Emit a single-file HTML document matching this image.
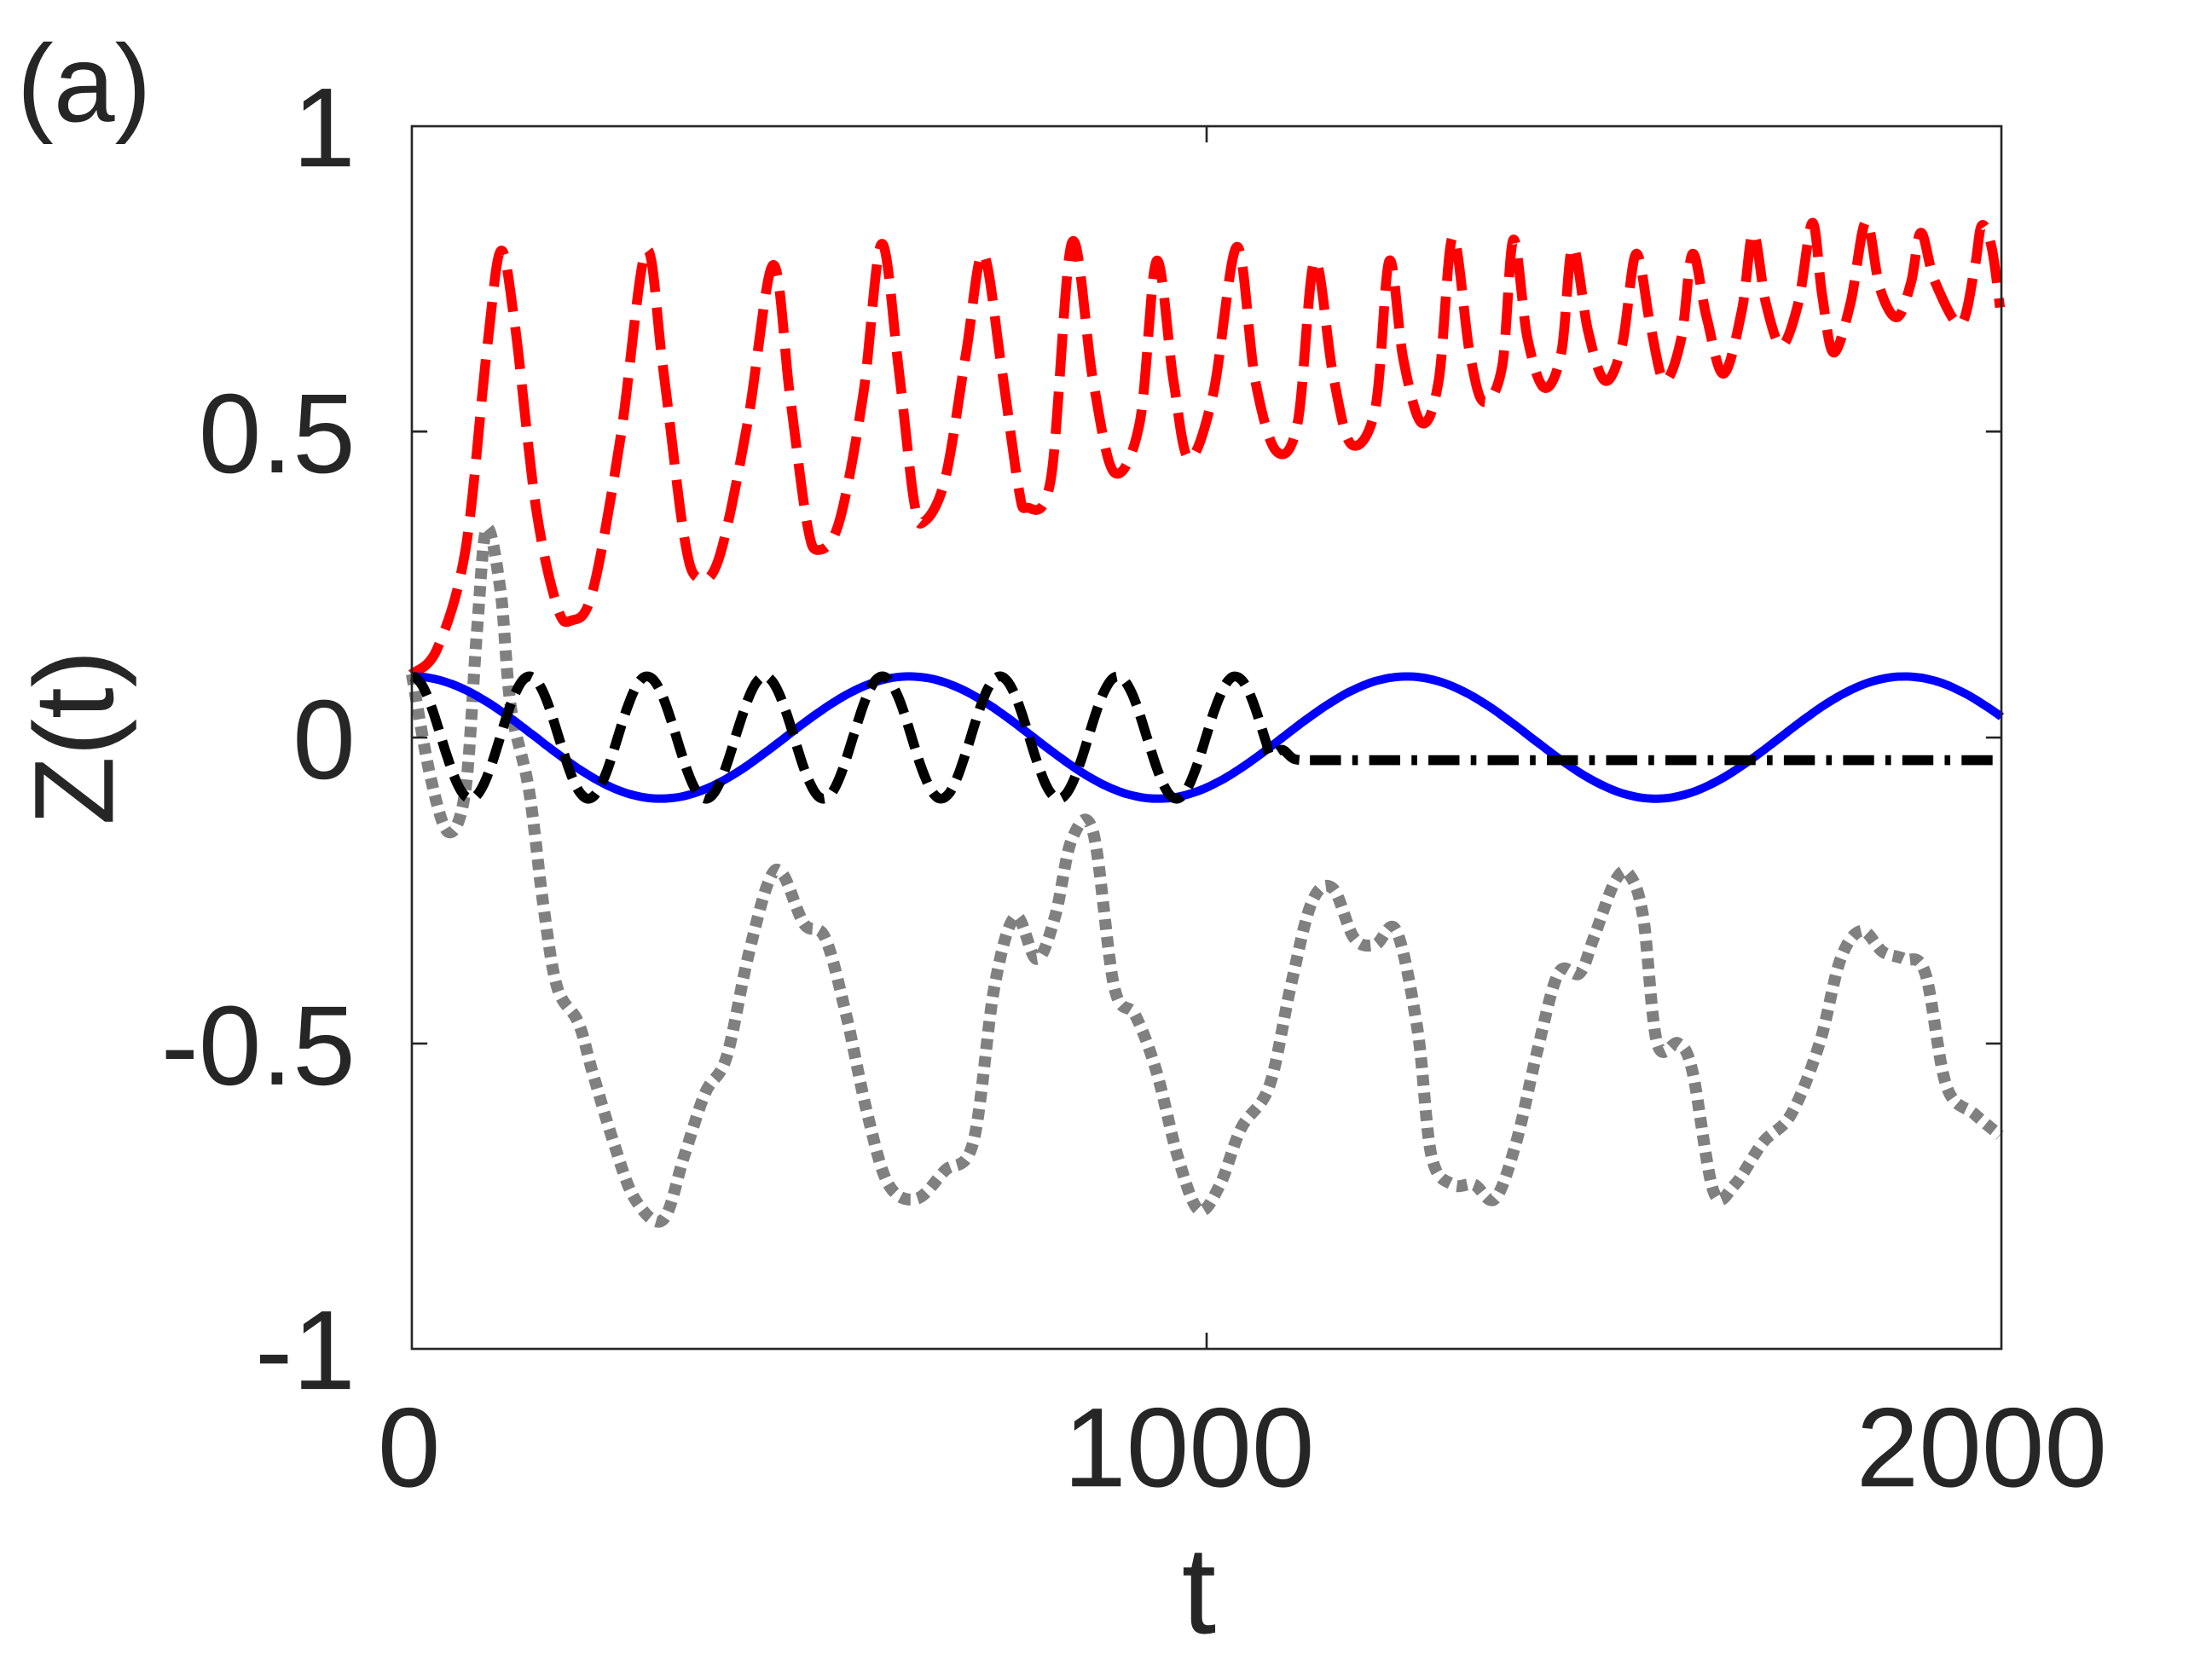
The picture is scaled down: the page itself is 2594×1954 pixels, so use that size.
<!DOCTYPE html>
<html><head><meta charset="utf-8"><style>
html,body{margin:0;padding:0;background:#fff;}
svg{display:block;}
text{font-family:"Liberation Sans",Arial,sans-serif;fill:#262626;}
</style></head><body>
<svg id="s" width="2594" height="1954" viewBox="0 0 2594 1954" xmlns="http://www.w3.org/2000/svg">
<rect width="2594" height="1954" fill="#fff"/>
<g transform="scale(1.654)">
<g id="curves" fill="none"></g>
<rect x="292" y="89.5" width="1127" height="867" fill="none" stroke="#262626" stroke-width="1.6"/>
<g stroke="#262626" stroke-width="1.6">
<line x1="855.5" y1="89.5" x2="855.5" y2="101"/><line x1="855.5" y1="956.5" x2="855.5" y2="945"/>
<line x1="292" y1="306" x2="303" y2="306"/><line x1="1419" y1="306" x2="1408" y2="306"/>
<line x1="292" y1="523" x2="303" y2="523"/><line x1="1419" y1="523" x2="1408" y2="523"/>
<line x1="292" y1="740" x2="303" y2="740"/><line x1="1419" y1="740" x2="1408" y2="740"/>
</g>
<g font-size="80" text-anchor="end">
<text x="252" y="118">1</text>
<text x="252" y="335">0.5</text>
<text x="252" y="552">0</text>
<text x="252" y="769">-0.5</text>
<text x="252" y="985">-1</text>
</g>
<g font-size="80" text-anchor="middle">
<text x="290" y="1054">0</text>
<text x="843" y="1054">1000</text>
<text x="1405" y="1054">2000</text>
<text x="850" y="1158" font-size="88">t</text>
</g>
<text font-size="80" text-anchor="middle" transform="translate(80,523) rotate(-90)">Z(t)</text>
<text x="12" y="86" font-size="78">(a)</text>
</g>
</svg>
<script>
function X(t){return 292+0.5635*t;}
function Y(z){return 523-433.5*z;}
function cr(p){var d="M"+p[0][0]+","+p[0][1];for(var i=0;i<p.length-1;i++){var p0=p[i-1]||p[i],p1=p[i],p2=p[i+1],p3=p[i+2]||p2;
d+=" C"+(p1[0]+(p2[0]-p0[0])/6).toFixed(1)+","+(p1[1]+(p2[1]-p0[1])/6).toFixed(1)+" "+(p2[0]-(p3[0]-p1[0])/6).toFixed(1)+","+(p2[1]-(p3[1]-p1[1])/6).toFixed(1)+" "+p2[0]+","+p2[1];}return d;}
var g=document.getElementById("curves");
function add(d,st){var e=document.createElementNS("http://www.w3.org/2000/svg","path");e.setAttribute("d",d);for(var k in st)e.setAttribute(k,st[k]);g.appendChild(e);}
var gp=[[292,478],[305,550],[318,590],[330,560],[338,450],[345,375],[355,420],[362,500],[375,560],[385,640],[395,700],[410,725],[420,760],[435,810],[450,850],[470,865],[485,820],[500,775],[515,750],[530,680],[545,625],[555,620],[570,655],[585,665],[600,720],[615,790],[630,840],[650,850],[670,830],[690,810],[705,700],[720,650],[735,680],[748,650],[760,595],[775,590],[790,700],[805,720],[820,760],[835,820],[850,858],[865,840],[880,800],[900,770],[915,700],[930,640],[945,630],[960,665],[975,670],[990,660],[1005,730],[1015,820],[1030,840],[1045,840],[1060,850],[1075,810],[1090,745],[1105,690],[1120,690],[1130,665],[1145,625],[1155,620],[1165,650],[1175,740],[1190,740],[1200,760],[1215,845],[1230,840],[1250,810],[1270,790],[1290,740],[1305,680],[1320,660],[1335,675],[1350,680],[1365,690],[1380,770],[1400,790],[1418,805]];
add(cr(gp),{stroke:"#808080","stroke-width":"8.5","stroke-dasharray":"7.5 5"});
var rp=[[292,478],[310,460],[330,390],[345,250],[355,178],[365,230],[380,360],[395,430],[405,440],[420,420],[440,310],[458,178],[470,260],[485,380],[495,410],[510,395],[530,300],[548,188],[560,280],[572,370],[580,390],[595,370],[612,280],[625,173],[637,260],[648,355],[655,370],[670,340],[685,250],[697,180],[710,260],[722,345],[728,360],[745,340],[760,172],[775,270],[790,335],[808,300],[820,185],[832,270],[843,325],[860,280],[877,175],[890,270],[905,320],[920,300],[932,185],[945,265],[958,315],[975,290],[985,185],[995,255],[1008,300],[1020,270],[1030,168],[1042,250],[1052,285],[1065,260],[1073,170],[1083,240],[1095,275],[1107,250],[1115,175],[1126,235],[1138,270],[1150,245],[1160,180],[1170,230],[1180,270],[1192,240],[1200,180],[1210,225],[1222,265],[1235,220],[1243,165],[1252,215],[1263,245],[1275,215],[1285,158],[1292,210],[1300,250],[1312,215],[1323,157],[1333,205],[1345,225],[1355,200],[1362,165],[1372,200],[1390,230],[1400,190],[1405,160],[1412,175],[1418,218]];
add(cr(rp),{stroke:"#ff0000","stroke-width":"7","stroke-dasharray":"30 11"});
var bp=[];for(var t=0;t<=2000;t+=10){bp.push([+X(t).toFixed(1),+Y(0.1*Math.cos(2*Math.PI*t/626)).toFixed(1)]);}
add(cr(bp),{stroke:"#0000ff","stroke-width":"6"});
var kp=[];for(var t=0;t<=1080;t+=5){kp.push([+X(t).toFixed(1),+Y(0.1*Math.cos(2*Math.PI*t/148)).toFixed(1)]);}
kp.push([X(1095),Y(-0.02)]);kp.push([X(1110),Y(-0.035)]);kp.push([X(1130),Y(-0.037)]);
add(cr(kp),{stroke:"#000","stroke-width":"7","stroke-dasharray":"18 8"});
add("M"+X(1130)+","+Y(-0.037)+" L1419,"+Y(-0.037),{stroke:"#000","stroke-width":"7","stroke-dasharray":"22 8 4 8"});
</script>
</body></html>
